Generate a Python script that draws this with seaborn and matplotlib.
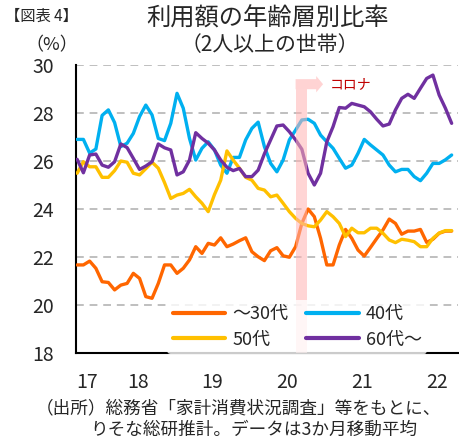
import numpy as np
import pandas as pd
import seaborn as sns
import matplotlib.pyplot as plt
from matplotlib.lines import Line2D

# 2017/3 - 2022/3, monthly (3-month moving average)
idx = np.arange(61)

age_30 = [21.67, 21.67, 21.83, 21.53, 20.97, 20.94, 20.63, 20.83, 20.9, 21.32,
          21.11, 20.35, 20.28, 20.9, 21.67, 21.67, 21.32, 21.53, 21.88, 22.43,
          22.15, 22.57, 22.5, 22.8, 22.43, 22.54, 22.68, 22.8, 22.22, 22.01,
          21.85, 22.26, 22.39, 22.05, 21.99, 22.43, 23.4, 24.0, 23.68, 22.78,
          21.67, 21.67, 22.5, 23.15, 22.78, 22.29, 22.04, 22.4, 22.77, 23.13,
          23.58, 23.4, 22.95, 23.08, 23.08, 23.15, 22.61, 22.74, 22.99, 23.08,
          23.08]
age_40 = [26.9, 26.9, 26.33, 26.5, 27.9, 28.13, 27.6, 26.6, 26.74, 27.15,
          27.85, 28.33, 27.92, 26.94, 26.85, 27.57, 28.82, 28.2, 26.94, 26.04,
          26.53, 26.8, 26.46, 25.83, 25.49, 26.15, 26.15, 26.88, 27.36, 27.62,
          26.6, 25.9, 25.55, 26.04, 26.88, 27.29, 27.71, 27.74, 27.57, 27.08,
          26.8, 26.53, 26.11, 25.7, 25.83, 26.32, 26.9, 26.67, 26.46, 26.25,
          25.83, 25.55, 25.65, 25.65, 25.35, 25.18, 25.49, 25.9, 25.9, 26.05,
          26.25]
age_50 = [25.49, 25.97, 25.76, 25.76, 25.32, 25.32, 25.6, 26.0, 25.95, 25.49,
          25.42, 25.68, 25.95, 25.7, 25.1, 24.44, 24.58, 24.65, 24.82, 24.51,
          24.24, 23.89, 24.6, 25.2, 26.42, 26.04, 25.7, 25.32, 25.2, 24.86,
          24.79, 24.51, 24.58, 24.24, 23.89, 23.61, 23.4, 23.3, 23.26, 23.54,
          23.89, 23.68, 23.4, 22.85, 23.2, 23.01, 23.01, 23.2, 23.2, 22.99,
          22.71, 22.6, 22.74, 22.7, 22.64, 22.43, 22.43, 22.78, 23.0, 23.1,
          23.1]
age_60 = [26.07, 25.51, 26.25, 26.29, 25.83, 25.74, 25.97, 26.71, 26.56, 26.11,
          25.65, 25.79, 25.97, 26.71, 26.55, 26.46, 25.42, 25.55, 26.04, 27.18,
          26.94, 26.74, 26.46, 26.04, 25.74, 25.6, 25.69, 25.35, 25.35, 25.62,
          26.3, 26.88, 27.46, 27.5, 27.22, 26.88, 26.49, 25.49, 25.0, 25.49,
          26.8, 27.43, 28.23, 28.2, 28.4, 28.33, 28.26, 28.05, 27.74, 27.46,
          27.54, 28.13, 28.61, 28.78, 28.61, 29.03, 29.44, 29.58, 28.75, 28.2,
          27.57]

series_names = ['～30代', '40代', '50代', '60代～']
colors = ['#FF6600', '#00B0F0', '#FFC000', '#7030A0']
year_labels = ['17', '18', '19', '20', '21', '22']
year_pos = [1.6, 9.7, 21.7, 33.7, 45.7, 57.7]
corona_start, corona_end = 35.0, 36.8

df = pd.DataFrame({'idx': np.tile(idx, 4),
                   'value': age_30 + age_40 + age_50 + age_60,
                   'group': np.repeat(series_names, len(idx))})

sns.set_style('white')
plt.rcParams['font.family'] = ['Noto Sans CJK JP', 'DejaVu Sans']

fig = plt.figure(figsize=(4.6, 4.41), dpi=100)
ax = fig.add_axes([0.165, 0.1995, 0.8304, 0.6531])

sns.lineplot(data=df, x='idx', y='value', hue='group', hue_order=series_names,
             palette=colors, linewidth=2.4, legend=False, ax=ax, zorder=3)

# corona band + arrow
ax.axvspan(corona_start, corona_end, ymax=(29.0 - 18) / 12, color='#FFB3B3',
           alpha=0.55, lw=0, zorder=4)
ax.arrow(corona_start, 29.2, 3.3, 0, width=0.42, head_width=0.68,
         head_length=1.1, color='#FFD3D3', lw=0, zorder=4)
ax.text(40.4, 29.2, 'コロナ', color='#C00000', fontsize=10, va='center', ha='left')

ax.set_xlim(-0.2, 61)
ax.set_ylim(18, 30)
ax.set_yticks(range(18, 31, 2))
ax.set_xticks(year_pos)
ax.set_xticklabels(year_labels)
ax.tick_params(axis='both', length=0, labelsize=14)
ax.tick_params(axis='y', pad=16)
ax.tick_params(axis='x', pad=14)
ax.set_xlabel('')
ax.set_ylabel('')

ax.yaxis.grid(True, color='#BFBFBF', linestyle=(0, (4, 3)), linewidth=1.4)
ax.set_axisbelow(True)
for s in ['top', 'right']:
    ax.spines[s].set_visible(False)
for s in ['left', 'bottom']:
    ax.spines[s].set_color('black')
    ax.spines[s].set_linewidth(1.5)

# legend: row1 ～30代, 40代 / row2 50代, 60代～
order = [0, 2, 1, 3]
handles = [Line2D([], [], color=colors[k], lw=3) for k in order]
leg = ax.legend(handles, [series_names[k] for k in order], ncol=2,
                loc='lower center', bbox_to_anchor=(0.58, -0.035), fontsize=13,
                handlelength=2.9, columnspacing=1.0, handletextpad=0.4,
                labelspacing=0.4, frameon=True, borderpad=0.3)
leg.get_frame().set_facecolor('white')
leg.get_frame().set_edgecolor('none')
leg.set_zorder(5)

fig.text(5 / 460, 1 - 16 / 441, '【図表 4】', fontsize=11, va='center', ha='left')
fig.text(52 / 460, 1 - 45 / 441, '（%）', fontsize=13, va='center', ha='center')
fig.text(268 / 460, 1 - 19 / 441, '利用額の年齢層別比率', fontsize=17.5, va='center', ha='center')
fig.text(270 / 460, 1 - 45 / 441, '（2人以上の世帯）', fontsize=15, va='center', ha='center')
fig.text(36 / 460, 1 - 408 / 441, '（出所）総務省「家計消費状況調査」等をもとに、',
         fontsize=12.7, va='center', ha='left')
fig.text(90 / 460, 1 - 430 / 441, 'りそな総研推計。データは3か月移動平均',
         fontsize=12.7, va='center', ha='left')

fig.savefig('out.png', dpi=100)
